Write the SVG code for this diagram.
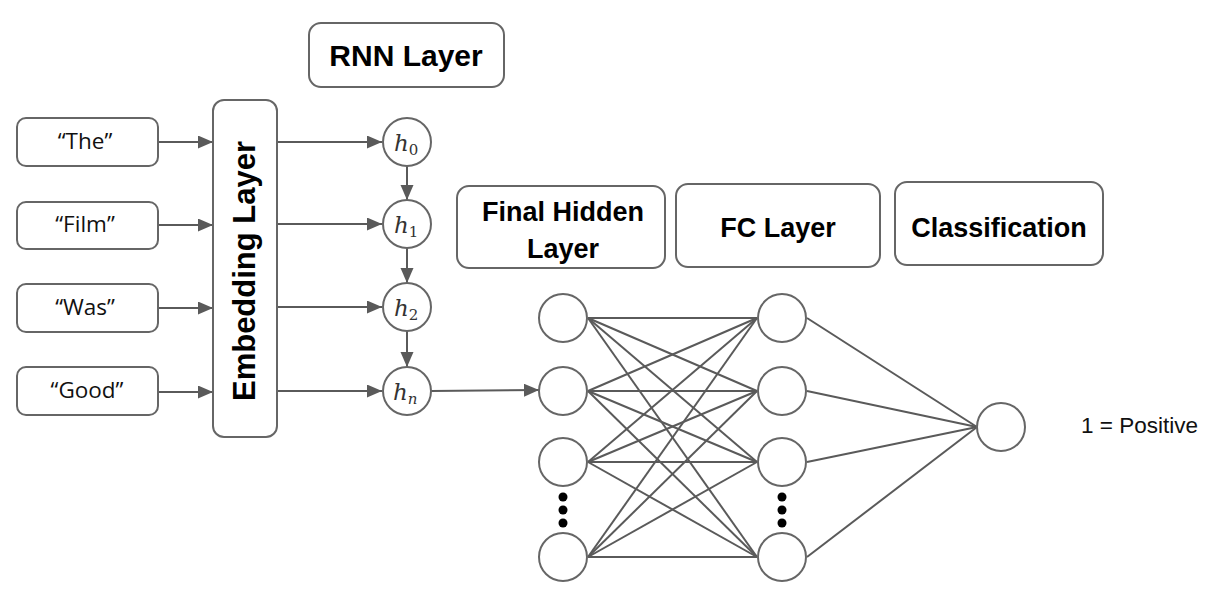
<svg xmlns="http://www.w3.org/2000/svg" width="1229" height="593" viewBox="0 0 1229 593">
<style>
.box{fill:#fff;stroke:#666;stroke-width:2}
.nd{fill:#fff;stroke:#666;stroke-width:2}
.ln{stroke:#5a5a5a;stroke-width:2;fill:none}
.w{font-family:"Open Sans","Liberation Sans",sans-serif;font-size:22.5px;fill:#111;text-anchor:middle}
.hd{font-family:"Liberation Sans",Arial,sans-serif;font-weight:bold;font-size:27px;fill:#000;text-anchor:middle}
.h{font-family:"DejaVu Serif","Liberation Serif",serif;font-style:italic;font-size:23px;fill:#333}
.sub{font-size:15px;font-style:normal}
.subi{font-size:15px;font-style:italic}
.dot{fill:#000}
</style>
<defs>
<marker id="ar" markerUnits="userSpaceOnUse" markerWidth="16" markerHeight="14" refX="15" refY="6.5" orient="auto">
<path d="M0,0 L15,6.5 L0,13 z" fill="#5a5a5a"/>
</marker>
</defs>
<rect width="1229" height="593" fill="#fff"/>

<g id="connectors">
<line class="ln" x1="158" y1="142" x2="213" y2="142" marker-end="url(#ar)"/>
<line class="ln" x1="158" y1="225" x2="213" y2="225" marker-end="url(#ar)"/>
<line class="ln" x1="158" y1="308" x2="213" y2="308" marker-end="url(#ar)"/>
<line class="ln" x1="158" y1="392" x2="213" y2="392" marker-end="url(#ar)"/>
<line class="ln" x1="277" y1="142" x2="382" y2="142" marker-end="url(#ar)"/>
<line class="ln" x1="277" y1="224" x2="382" y2="224" marker-end="url(#ar)"/>
<line class="ln" x1="277" y1="307" x2="382" y2="307" marker-end="url(#ar)"/>
<line class="ln" x1="277" y1="391" x2="382" y2="391" marker-end="url(#ar)"/>
<line class="ln" x1="407" y1="166" x2="407" y2="200" marker-end="url(#ar)"/>
<line class="ln" x1="407" y1="248" x2="407" y2="283" marker-end="url(#ar)"/>
<line class="ln" x1="407" y1="331" x2="407" y2="367" marker-end="url(#ar)"/>
<line class="ln" x1="431" y1="391" x2="539" y2="390" marker-end="url(#ar)"/>
<g class="ln">
<line x1="588" y1="318" x2="757" y2="318"/><line x1="588" y1="318" x2="757" y2="391"/><line x1="588" y1="318" x2="757" y2="462"/><line x1="588" y1="318" x2="757" y2="557"/>
<line x1="588" y1="391" x2="757" y2="318"/><line x1="588" y1="391" x2="757" y2="391"/><line x1="588" y1="391" x2="757" y2="462"/><line x1="588" y1="391" x2="757" y2="557"/>
<line x1="588" y1="462" x2="757" y2="318"/><line x1="588" y1="462" x2="757" y2="391"/><line x1="588" y1="462" x2="757" y2="462"/><line x1="588" y1="462" x2="757" y2="557"/>
<line x1="588" y1="557" x2="757" y2="318"/><line x1="588" y1="557" x2="757" y2="391"/><line x1="588" y1="557" x2="757" y2="462"/><line x1="588" y1="557" x2="757" y2="557"/>
<line x1="807" y1="318" x2="977" y2="427"/><line x1="807" y1="391" x2="977" y2="427"/><line x1="807" y1="462" x2="977" y2="427"/><line x1="807" y1="557" x2="977" y2="427"/>
</g>
</g>

<g id="rnn-title"><rect class="box" x="309" y="23" width="195" height="64" rx="12"/><text class="hd" x="406" y="66" style="font-size:30px">RNN Layer</text></g>

<g id="word-the"><rect class="box" x="17" y="118" width="141" height="48" rx="9"/><text class="w" x="85" y="149">“The”</text></g>
<g id="word-film"><rect class="box" x="17" y="202" width="141" height="47" rx="9"/><text class="w" x="85" y="232">“Film”</text></g>
<g id="word-was"><rect class="box" x="17" y="284" width="141" height="48" rx="9"/><text class="w" x="85" y="315">“Was”</text></g>
<g id="word-good"><rect class="box" x="17" y="367" width="141" height="48" rx="9"/><text class="w" x="87" y="398">“Good”</text></g>

<g id="embedding"><rect class="box" x="213" y="100" width="64" height="337" rx="11"/><text class="hd" transform="translate(255,271) rotate(-90)" style="font-size:31px">Embedding Layer</text></g>

<g id="h0"><circle class="nd" cx="407" cy="142" r="24"/><text class="h" x="394" y="151">h<tspan class="sub" dy="4">0</tspan></text></g>
<g id="h1"><circle class="nd" cx="407" cy="224" r="24"/><text class="h" x="394" y="233">h<tspan class="sub" dy="4">1</tspan></text></g>
<g id="h2"><circle class="nd" cx="407" cy="307" r="24"/><text class="h" x="394" y="316">h<tspan class="sub" dy="4">2</tspan></text></g>
<g id="hn"><circle class="nd" cx="407" cy="391" r="24"/><text class="h" x="393" y="400">h<tspan class="subi" dy="4">n</tspan></text></g>

<g id="final-hidden-title"><rect class="box" x="457" y="186" width="208" height="82" rx="12"/><text class="hd" x="563" y="221">Final Hidden</text><text class="hd" x="563" y="258">Layer</text></g>
<g id="fc-title"><rect class="box" x="676" y="184" width="204" height="83" rx="12"/><text class="hd" x="778" y="237">FC Layer</text></g>
<g id="class-title"><rect class="box" x="895" y="182" width="208" height="83" rx="12"/><text class="hd" x="999" y="237">Classification</text></g>

<g id="hidden-layer">
<circle class="nd" cx="563" cy="318" r="24"/><circle class="nd" cx="563" cy="391" r="24"/><circle class="nd" cx="563" cy="462" r="24"/><circle class="nd" cx="563" cy="557" r="24"/>
<circle class="dot" cx="563" cy="497" r="4.5"/><circle class="dot" cx="563" cy="510" r="4.5"/><circle class="dot" cx="563" cy="523" r="4.5"/>
</g>
<g id="fc-layer">
<circle class="nd" cx="782" cy="318" r="24"/><circle class="nd" cx="782" cy="391" r="24"/><circle class="nd" cx="782" cy="462" r="24"/><circle class="nd" cx="782" cy="557" r="24"/>
<circle class="dot" cx="782" cy="497" r="4.5"/><circle class="dot" cx="782" cy="510" r="4.5"/><circle class="dot" cx="782" cy="523" r="4.5"/>
</g>
<g id="output"><circle class="nd" cx="1001" cy="427" r="24"/></g>
<g id="label-positive"><text x="1081" y="433" style="font-family:'Liberation Sans',Arial,sans-serif;font-size:22.5px;fill:#111">1 = Positive</text></g>
</svg>
